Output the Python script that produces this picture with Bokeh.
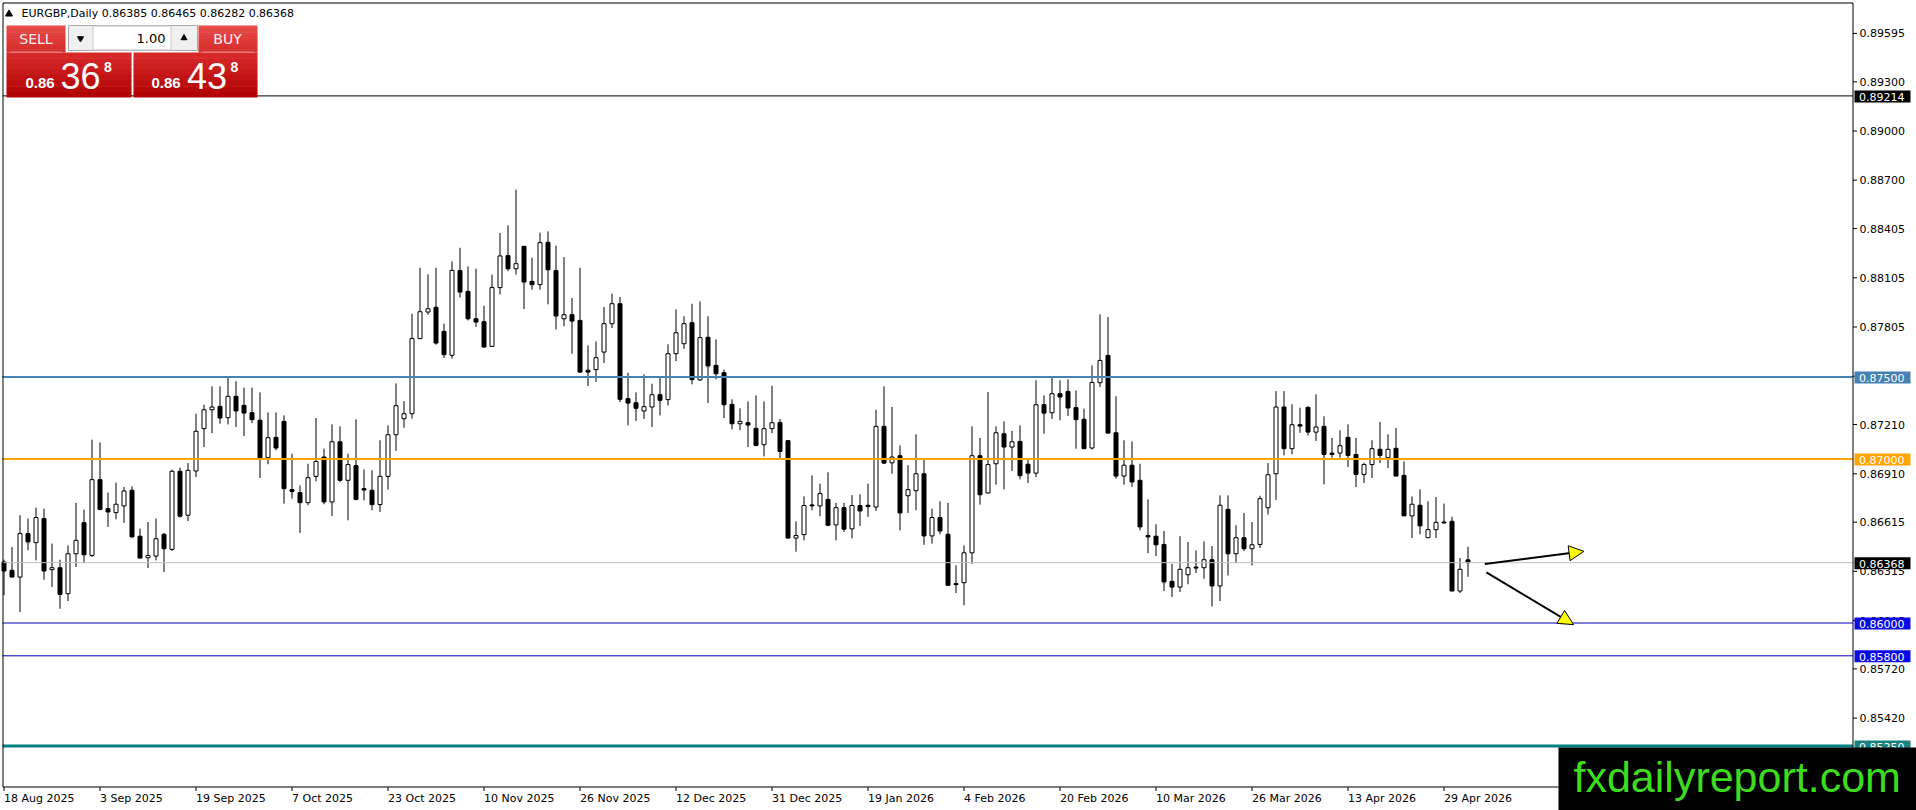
from bokeh.plotting import figure
from bokeh.models import Range1d, Arrow, NormalHead, ColumnDataSource
from bokeh.core.properties import value
from bokeh.embed import file_html
from bokeh.resources import INLINE

# ---------------- data ----------------
symbol = "EURGBP"
timeframe = "Daily"
header_ohlc = ["0.86385", "0.86465", "0.86282", "0.86368"]
bid_str = "0.86368"
ask_str = "0.86438"
lot_str = "1.00"

opens = [0.86372, 0.86321, 0.86280, 0.86545, 0.86490, 0.86637, 0.86325, 0.86337, 0.86179, 0.86422,
         0.86612, 0.86412, 0.86874, 0.86697, 0.86673, 0.86714, 0.86809, 0.86529, 0.86398, 0.86408,
         0.86541, 0.86449, 0.86925, 0.86657, 0.86927, 0.87185, 0.87300, 0.87321, 0.87252, 0.87382,
         0.87327, 0.87282, 0.87236, 0.87008, 0.87132, 0.87229, 0.86813, 0.86795, 0.86734, 0.86894,
         0.87012, 0.86738, 0.87105, 0.86870, 0.86960, 0.86819, 0.86809, 0.86722, 0.86894, 0.87148,
         0.87246, 0.87276, 0.87734, 0.87896, 0.87925, 0.87778, 0.87632, 0.88150, 0.88022, 0.87855,
         0.87837, 0.87687, 0.88045, 0.88240, 0.88160, 0.88297, 0.88083, 0.88063, 0.88321, 0.88150,
         0.87855, 0.87880, 0.87845, 0.87541, 0.87545, 0.87652, 0.87825, 0.87947, 0.87368, 0.87343,
         0.87293, 0.87317, 0.87392, 0.87362, 0.87642, 0.87703, 0.87831, 0.87482, 0.87742, 0.87571,
         0.87526, 0.87333, 0.87215, 0.87221, 0.87187, 0.87087, 0.87185, 0.87223, 0.87112, 0.86518,
         0.86539, 0.86720, 0.86714, 0.86754, 0.86598, 0.86703, 0.86574, 0.86716, 0.86718, 0.86707,
         0.87199, 0.86977, 0.87020, 0.86776, 0.86807, 0.86910, 0.86531, 0.86643, 0.86541, 0.86240,
         0.86246, 0.86428, 0.87020, 0.86793, 0.86971, 0.87154, 0.87073, 0.87107, 0.86968, 0.86914,
         0.87331, 0.87282, 0.87398, 0.87412, 0.87313, 0.87242, 0.87067, 0.87465, 0.87632, 0.87160,
         0.86896, 0.86962, 0.86870, 0.86533, 0.86529, 0.86479, 0.86254, 0.86219, 0.86294, 0.86341,
         0.86337, 0.86386, 0.86226, 0.86693, 0.86422, 0.86520, 0.86453, 0.86479, 0.86703, 0.86910,
         0.87317, 0.87063, 0.87209, 0.87315, 0.87164, 0.87199, 0.87036, 0.87036, 0.87132, 0.87028,
         0.86906, 0.86966, 0.87059, 0.87008, 0.87065, 0.86900, 0.86653, 0.86718, 0.86520, 0.86569,
         0.86616, 0.86620, 0.86195, 0.86385]
highs = [0.86386, 0.86463, 0.86657, 0.86637, 0.86703, 0.86697, 0.86484, 0.86386, 0.86473, 0.86732,
         0.86691, 0.87118, 0.87101, 0.86795, 0.86856, 0.86829, 0.86833, 0.86576, 0.86616, 0.86637,
         0.86549, 0.86935, 0.86947, 0.86975, 0.87276, 0.87331, 0.87443, 0.87443, 0.87500, 0.87474,
         0.87435, 0.87435, 0.87406, 0.87284, 0.87284, 0.87266, 0.87032, 0.86839, 0.86971, 0.87250,
         0.87063, 0.87211, 0.87199, 0.87032, 0.87242, 0.86937, 0.86931, 0.87114, 0.87205, 0.87461,
         0.87353, 0.87886, 0.88166, 0.88126, 0.88166, 0.87825, 0.88205, 0.88288, 0.88174, 0.88160,
         0.87935, 0.88124, 0.88378, 0.88425, 0.88642, 0.88297, 0.88227, 0.88380, 0.88388, 0.88301,
         0.88231, 0.87982, 0.88166, 0.87693, 0.87717, 0.87927, 0.88008, 0.87988, 0.87526, 0.87406,
         0.87516, 0.87459, 0.87500, 0.87699, 0.87912, 0.87870, 0.87947, 0.87961, 0.87870, 0.87729,
         0.87545, 0.87364, 0.87309, 0.87351, 0.87388, 0.87351, 0.87447, 0.87244, 0.87112, 0.86620,
         0.86772, 0.86900, 0.86850, 0.86919, 0.86732, 0.86732, 0.86780, 0.86785, 0.86850, 0.87300,
         0.87443, 0.87317, 0.87083, 0.86962, 0.87150, 0.86995, 0.86697, 0.86742, 0.86732, 0.86351,
         0.86473, 0.87199, 0.87128, 0.87408, 0.87199, 0.87229, 0.87171, 0.87205, 0.87002, 0.87480,
         0.87388, 0.87500, 0.87480, 0.87486, 0.87418, 0.87307, 0.87571, 0.87882, 0.87866, 0.87382,
         0.87114, 0.87107, 0.86971, 0.86754, 0.86602, 0.86561, 0.86361, 0.86529, 0.86494, 0.86443,
         0.86498, 0.86469, 0.86778, 0.86778, 0.86596, 0.86671, 0.86616, 0.86776, 0.86975, 0.87414,
         0.87414, 0.87333, 0.87313, 0.87321, 0.87394, 0.87260, 0.87128, 0.87175, 0.87211, 0.87128,
         0.86977, 0.87114, 0.87225, 0.87150, 0.87189, 0.86985, 0.86772, 0.86815, 0.86742, 0.86768,
         0.86728, 0.86647, 0.86396, 0.86465]
lows = [0.86169, 0.86280, 0.86067, 0.86443, 0.86382, 0.86264, 0.86219, 0.86087, 0.86134, 0.86341,
        0.86365, 0.86402, 0.86687, 0.86586, 0.86632, 0.86610, 0.86520, 0.86392, 0.86335, 0.86382,
        0.86311, 0.86439, 0.86643, 0.86622, 0.86890, 0.87073, 0.87158, 0.87215, 0.87211, 0.87195,
        0.87140, 0.87219, 0.86884, 0.86968, 0.87053, 0.86728, 0.86758, 0.86549, 0.86718, 0.86864,
        0.86724, 0.86653, 0.86860, 0.86626, 0.86748, 0.86748, 0.86687, 0.86677, 0.86813, 0.87049,
        0.87191, 0.87246, 0.87732, 0.87880, 0.87697, 0.87616, 0.87612, 0.87984, 0.87845, 0.87805,
        0.87677, 0.87683, 0.88004, 0.88146, 0.88124, 0.87914, 0.88032, 0.88032, 0.87943, 0.87790,
        0.87809, 0.87642, 0.87524, 0.87445, 0.87470, 0.87585, 0.87799, 0.87347, 0.87205, 0.87232,
        0.87244, 0.87195, 0.87266, 0.87327, 0.87597, 0.87672, 0.87455, 0.87476, 0.87341, 0.87486,
        0.87250, 0.87181, 0.87175, 0.87073, 0.87077, 0.87016, 0.87158, 0.87006, 0.86514, 0.86435,
        0.86504, 0.86687, 0.86651, 0.86590, 0.86504, 0.86555, 0.86516, 0.86592, 0.86647, 0.86683,
        0.86971, 0.86910, 0.86565, 0.86671, 0.86687, 0.86477, 0.86484, 0.86541, 0.86226, 0.86183,
        0.86108, 0.86361, 0.86722, 0.86789, 0.86843, 0.86815, 0.86927, 0.86876, 0.86853, 0.86890,
        0.87154, 0.87244, 0.87236, 0.87262, 0.87063, 0.87060, 0.87057, 0.87439, 0.87155, 0.86880,
        0.86843, 0.86829, 0.86565, 0.86426, 0.86408, 0.86195, 0.86159, 0.86189, 0.86236, 0.86305,
        0.86270, 0.86101, 0.86134, 0.86290, 0.86365, 0.86439, 0.86351, 0.86457, 0.86661, 0.86751,
        0.87022, 0.87028, 0.87160, 0.87144, 0.87110, 0.86845, 0.87008, 0.87008, 0.86951, 0.86829,
        0.86853, 0.86884, 0.86975, 0.86945, 0.86896, 0.86653, 0.86518, 0.86541, 0.86518, 0.86518,
        0.86606, 0.86195, 0.86183, 0.86282]
closes = [0.86317, 0.86280, 0.86545, 0.86494, 0.86643, 0.86317, 0.86337, 0.86175, 0.86422, 0.86504,
          0.86416, 0.86874, 0.86693, 0.86677, 0.86724, 0.86805, 0.86525, 0.86396, 0.86412, 0.86514,
          0.86453, 0.86925, 0.86651, 0.86931, 0.87169, 0.87300, 0.87317, 0.87250, 0.87382, 0.87293,
          0.87280, 0.87240, 0.87002, 0.87130, 0.87067, 0.86819, 0.86801, 0.86734, 0.86886, 0.86985,
          0.86738, 0.87105, 0.86870, 0.86966, 0.86754, 0.86811, 0.86722, 0.86894, 0.87148, 0.87325,
          0.87276, 0.87734, 0.87898, 0.87916, 0.87707, 0.87636, 0.88150, 0.88018, 0.87855, 0.87835,
          0.87683, 0.88045, 0.88238, 0.88160, 0.88191, 0.88079, 0.88063, 0.88319, 0.88154, 0.87872,
          0.87880, 0.87841, 0.87530, 0.87530, 0.87618, 0.87825, 0.87947, 0.87364, 0.87341, 0.87309,
          0.87319, 0.87392, 0.87358, 0.87642, 0.87770, 0.87825, 0.87484, 0.87740, 0.87567, 0.87520,
          0.87331, 0.87215, 0.87229, 0.87207, 0.87083, 0.87185, 0.87221, 0.87046, 0.86518, 0.86533,
          0.86716, 0.86714, 0.86789, 0.86596, 0.86703, 0.86572, 0.86716, 0.86683, 0.86710, 0.87199,
          0.86975, 0.87012, 0.86671, 0.86813, 0.86910, 0.86531, 0.86643, 0.86561, 0.86230, 0.86234,
          0.86428, 0.87020, 0.86782, 0.86966, 0.87160, 0.87073, 0.87105, 0.86898, 0.86914, 0.87331,
          0.87280, 0.87398, 0.87378, 0.87311, 0.87240, 0.87063, 0.87467, 0.87601, 0.87158, 0.86896,
          0.86962, 0.86860, 0.86586, 0.86525, 0.86477, 0.86250, 0.86219, 0.86327, 0.86337, 0.86335,
          0.86386, 0.86226, 0.86718, 0.86422, 0.86520, 0.86453, 0.86477, 0.86758, 0.86904, 0.87317,
          0.87063, 0.87209, 0.87201, 0.87164, 0.87195, 0.87028, 0.87028, 0.87081, 0.87022, 0.86906,
          0.86966, 0.87063, 0.87022, 0.87059, 0.86896, 0.86653, 0.86724, 0.86592, 0.86569, 0.86614,
          0.86610, 0.86195, 0.86327, 0.86368]

date_labels = ["18 Aug 2025", "3 Sep 2025", "19 Sep 2025", "7 Oct 2025", "23 Oct 2025",
               "10 Nov 2025", "26 Nov 2025", "12 Dec 2025", "31 Dec 2025", "19 Jan 2026",
               "4 Feb 2026", "20 Feb 2026", "10 Mar 2026", "26 Mar 2026", "13 Apr 2026",
               "29 Apr 2026"]
date_ticks = [0, 12, 24, 36, 48, 60, 72, 84, 96, 108, 120, 132, 144, 156, 168, 180]

price_ticks = [0.89595, 0.89300, 0.89000, 0.88700, 0.88405, 0.88105, 0.87805, 0.87505,
               0.87210, 0.86910, 0.86615, 0.86315, 0.86015, 0.85720, 0.85420, 0.85125]

level_prices = [0.89214, 0.87500, 0.87000, 0.86000, 0.85800, 0.85250]
level_colors = ["#000000", "#4682B4", "#FFA500", "#0000C0", "#0000C0", "#008080"]
level_widths = [1, 2, 2, 1, 1, 3]
tag_colors = ["#000000", "#4682B4", "#FFA500", "#0A0AE6", "#0A0AE6", "#1A8080"]
bid_price = 0.86368

arrow_up = (185.1, 0.86360, 197.5, 0.86437)
arrow_down = (185.3, 0.86309, 196.2, 0.85990)

watermark = "fxdailyreport.com"

# ---------------- layout: the frame fills the whole canvas ----------------
W, H = 1916, 810
PXB = 8.0          # pixels per bar
PPU = 16400.0      # pixels per price unit
xs = -3.5 / PXB
xe = xs + W / PXB
ye = 0.86 + 622.5 / PPU
ys = ye - H / PPU

def gx(px):        # page pixel -> data x (decorations only)
    return xs + px / PXB
def gy(py):        # page pixel -> data y (decorations only)
    return ye - py / PPU

p = figure(width=W, height=H, x_range=Range1d(xs, xe), y_range=Range1d(ys, ye),
           output_backend="svg", toolbar_location=None,
           x_axis_location=None, y_axis_location=None, min_border=0,
           background_fill_color="white", border_fill_color="white",
           outline_line_color=None)
p.grid.visible = False

AX_R = 1852.5      # right price-axis line
AX_B = 786.5       # bottom time-axis line

# ---------------- candles ----------------
idx = list(range(len(opens)))
src = ColumnDataSource(dict(
    x=idx, o=opens, h=highs, l=lows, c=closes,
    top=[max(o, c) for o, c in zip(opens, closes)],
    bot=[min(o, c) for o, c in zip(opens, closes)],
    fill=["black" if c < o else "white" for o, c in zip(opens, closes)],
))
p.segment(x0="x", y0="l", x1="x", y1="h", source=src, line_color="black", line_width=1)
p.vbar(x="x", width=0.5, top="top", bottom="bot", source=src,
       fill_color="fill", line_color="black", line_width=1)

# ---------------- horizontal levels ----------------
n = len(level_prices)
p.segment(x0=[gx(2)] * n, x1=[gx(AX_R)] * n, y0=level_prices, y1=level_prices,
          line_color=level_colors, line_width=level_widths)
p.segment(x0=[gx(2)], x1=[gx(AX_R)], y0=[bid_price], y1=[bid_price],
          line_color="#C0C0C0", line_width=1)

# ---------------- arrows ----------------
for (x0, y0, x1, y1) in (arrow_up, arrow_down):
    p.add_layout(Arrow(x_start=x0, y_start=y0, x_end=x1, y_end=y1,
                       line_color="black", line_width=2,
                       end=NormalHead(size=15, fill_color="#FFFF00", line_color="black",
                                      line_width=1)))

# ---------------- trade panel ----------------
def hexc(rgb):
    return "#%02x%02x%02x" % tuple(int(round(v)) for v in rgb)

def grad_box(x0, x1, y0, y1, c0, c1, nb=8):
    tops, bots, cols = [], [], []
    for k in range(nb):
        a = y0 + (y1 - y0) * k / nb
        b = min(y0 + (y1 - y0) * (k + 1) / nb + 0.6, y1)
        t = k / (nb - 1)
        tops.append(gy(a)); bots.append(gy(b))
        cols.append(hexc([c0[i] + (c1[i] - c0[i]) * t for i in range(3)]))
    p.quad(left=[gx(x0)] * nb, right=[gx(x1)] * nb, top=tops, bottom=bots,
           fill_color=cols, line_color=None)

btn0, btn1 = (232, 74, 74), (214, 44, 44)
blk0, blk1 = (214, 40, 40), (178, 4, 4)
grad_box(6, 65, 25, 52, btn0, btn1)
grad_box(198, 257, 25, 52, btn0, btn1)
grad_box(6, 131, 52, 97, blk0, blk1)
grad_box(133, 257, 52, 97, blk0, blk1)
p.segment(x0=[gx(10), gx(202)], y0=[gy(51.5)] * 2, x1=[gx(62), gx(254)], y1=[gy(51.5)] * 2,
          line_color="#F08A8A", line_width=1)

p.quad(left=[gx(68)], right=[gx(197)], top=[gy(25)], bottom=[gy(50)],
       fill_color="#F0F0F0", line_color="#A8A8A8", line_width=1)
p.quad(left=[gx(92.5)], right=[gx(170.5)], top=[gy(25.5)], bottom=[gy(49.5)],
       fill_color="white", line_color="#C8C8C8", line_width=1)
p.scatter(x=[gx(80)], y=[gy(38)], marker="inverted_triangle", size=6,
          fill_color="black", line_color="black")
p.scatter(x=[gx(183.5)], y=[gy(37.5)], marker="triangle", size=6,
          fill_color="black", line_color="black")
p.text(x=[gx(165)], y=[gy(38)], text=[lot_str], text_align="right", text_baseline="middle",
       text_font=value("DejaVu Sans"), text_font_size=value("13px"), text_color="black")
p.text(x=[gx(35.5), gx(227)], y=[gy(38.5)] * 2, text=["SELL", "BUY"], text_align="center",
       text_baseline="middle", text_font=value("DejaVu Sans"), text_font_size=value("14px"),
       text_color="#FFEFEF")

sell_parts = (bid_str[:4], bid_str[4:6], bid_str[6:])
buy_parts = (ask_str[:4], ask_str[4:6], ask_str[6:])
p.text(x=[gx(25), gx(151)], y=[gy(82.3)] * 2, text=[sell_parts[0], buy_parts[0]],
       text_align="left", text_baseline="middle", text_font=value("Liberation Sans"),
       text_font_size=value("15px"), text_font_style="bold", text_color="white")
p.text(x=[gx(60), gx(186.5)], y=[gy(75.8)] * 2, text=[sell_parts[1], buy_parts[1]],
       text_align="left", text_baseline="middle", text_font=value("Liberation Sans"),
       text_font_size=value("36px"), text_color="white")
p.text(x=[gx(103.5), gx(230)], y=[gy(66.5)] * 2, text=[sell_parts[2], buy_parts[2]],
       text_align="left", text_baseline="middle", text_font=value("Liberation Sans"),
       text_font_size=value("14px"), text_font_style="bold", text_color="white")

# header
p.scatter(x=[gx(8.5)], y=[gy(13.5)], marker="triangle", size=7, fill_color="black",
          line_color="black")
p.text(x=[gx(21)], y=[gy(13)], text=[f"{symbol},{timeframe}  " + " ".join(header_ohlc)],
       text_align="left", text_baseline="middle", text_font=value("DejaVu Sans"),
       text_font_size=value("11px"), text_color="black")

# ---------------- chart border and axes ----------------
p.multi_line(xs=[[gx(2.5), gx(AX_R), gx(AX_R), gx(2.5), gx(2.5)]],
             ys=[[gy(2.5), gy(2.5), gy(AX_B), gy(AX_B), gy(2.5)]],
             line_color="black", line_width=1)

# price axis: ticks + labels
m = len(price_ticks)
p.segment(x0=[gx(AX_R)] * m, x1=[gx(AX_R + 4)] * m, y0=price_ticks, y1=price_ticks,
          line_color="black", line_width=1)
p.text(x=[gx(1859)] * m, y=price_ticks, text=[f"{t:.5f}" for t in price_ticks],
       text_align="left", text_baseline="middle", text_font=value("DejaVu Sans"),
       text_font_size=value("11px"), text_color="black")

# time axis: ticks + labels (left aligned at the tick, MT4 style)
k = len(date_ticks)
p.segment(x0=date_ticks, x1=date_ticks, y0=[gy(AX_B)] * k, y1=[gy(AX_B + 4)] * k,
          line_color="black", line_width=1)
p.text(x=date_ticks, y=[gy(797.5)] * k, text=date_labels, text_align="left",
       text_baseline="middle", text_font=value("DejaVu Sans"),
       text_font_size=value("11px"), text_color="black")

# ---------------- price tags on the axis ----------------
tag_prices = level_prices + [bid_price]
tag_fill = tag_colors + ["#000000"]
t_n = len(tag_prices)
p.quad(left=[gx(1854)] * t_n, right=[gx(1910)] * t_n,
       top=[v + 5.5 / PPU for v in tag_prices], bottom=[v - 6.5 / PPU for v in tag_prices],
       fill_color=tag_fill, line_color=None)
p.text(x=[gx(1858.5)] * t_n, y=[v - 1 / PPU for v in tag_prices],
       text=[f"{v:.5f}" for v in tag_prices], text_align="left", text_baseline="middle",
       text_font=value("DejaVu Sans"), text_font_size=value("11px"), text_color="white")

# ---------------- watermark ----------------
p.quad(left=[gx(1558)], right=[gx(W)], top=[gy(747)], bottom=[gy(H)],
       fill_color="black", line_color=None)
p.text(x=[gx(1573)], y=[gy(776.5)], text=[watermark], text_align="left",
       text_baseline="middle", text_font=value("Liberation Sans"),
       text_font_size=value("43px"), text_color="#3CDC1E")

open("out.html", "w").write(file_html(p, INLINE))
